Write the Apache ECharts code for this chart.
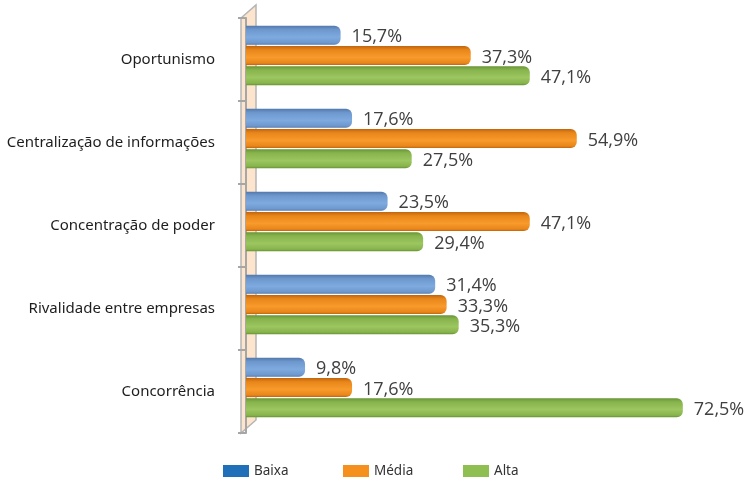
<!DOCTYPE html>
<html>
<head>
<meta charset="utf-8">
<script src="https://cdn.jsdelivr.net/npm/echarts@6/dist/echarts.min.js"></script>
<style>
  html, body { margin: 0; padding: 0; background: #fff; }
  #chart { width: 744px; height: 478px; }
</style>
</head>
<body>
<div id="chart"></div>
<script>
// dados
const categorias = ["Oportunismo", "Centralização de informações", "Concentração de poder", "Rivalidade entre empresas", "Concorrência"];
const baixa = [15.7, 17.6, 23.5, 31.4, 9.8];
const media = [37.3, 54.9, 47.1, 33.3, 17.6];
const alta = [47.1, 27.5, 29.4, 35.3, 72.5];
const nomes = ["Baixa", "Média", "Alta"];

// cilindro: gradiente vertical
function cilindro(escuro, medio, claro) {
  return {
    type: "linear", x: 0, y: 0, x2: 0, y2: 1,
    colorStops: [
      { offset: 0, color: escuro },
      { offset: 0.2, color: medio },
      { offset: 0.6, color: claro },
      { offset: 0.9, color: medio },
      { offset: 1, color: escuro },
    ],
  };
}

const cores = [
  { legenda: "#1f6fb9", barra: cilindro("#5279ae", "#6e98cd", "#7eaae0") },
  { legenda: "#f5901f", barra: cilindro("#c0650e", "#e8861a", "#f89a2c") },
  { legenda: "#8fbf50", barra: cilindro("#679336", "#88b44d", "#9cc65f") },
];

const fmt = (p) => p.value.toFixed(1).replace(".", ",") + "%";

const serieBase = (name, data, i) => ({
  name,
  type: "bar",
  xAxisIndex: 1,
  yAxisIndex: 1,
  data,
  barWidth: 19,
  barGap: "6%",
  itemStyle: { color: cores[i].barra, borderRadius: [0, 6, 6, 0] },
  label: {
    show: true,
    position: "right",
    distance: 11,
    offset: [0, 2],
    formatter: fmt,
    fontFamily: "Open Sans",
    fontSize: 18,
    color: "#404040",
  },
  z: 3,
});

// uma legenda por item, com espaçamento fixo
const legendas = nomes.map((n, i) => ({
  left: 218 + i * 120,
  top: 459,
  itemWidth: 26,
  itemHeight: 12,
  icon: "rect",
  textStyle: { fontFamily: "Noto Sans", fontSize: 13.5, color: "#333" },
  data: [{ name: n, itemStyle: { color: cores[i].legenda } }],
}));

const chart = echarts.init(document.getElementById("chart"));
chart.setOption({
  animation: false,
  color: cores.map((c) => c.legenda),
  grid: [
    // eixo (ticks e rótulos)
    { left: 246, right: 16, top: 18, bottom: 45 },
    // barras, um pouco acima do centro da faixa
    { left: 246, right: 16, top: 14, bottom: 49 },
  ],
  legend: legendas,
  xAxis: [
    { type: "value", gridIndex: 0, min: 0, max: 80, show: false },
    { type: "value", gridIndex: 1, min: 0, max: 80, show: false },
  ],
  yAxis: [
    {
      type: "category",
      gridIndex: 0,
      inverse: true,
      data: categorias,
      offset: 5,
      axisLine: { show: true, lineStyle: { color: "#a6a6a6", width: 2 } },
      axisTick: { show: true, length: 8, lineStyle: { color: "#a6a6a6", width: 2 } },
      axisLabel: {
        margin: 26,
        fontFamily: "Noto Sans",
        fontSize: 15,
        color: "#1e1e1e",
      },
      z: 2,
    },
    { type: "category", gridIndex: 1, inverse: true, data: categorias, show: false },
  ],
  graphic: [
    {
      type: "polygon",
      z: -10,
      shape: { points: [[241, 18], [256, 5], [256, 420], [241, 433]] },
      style: { fill: "#fde4cc", stroke: "#b5b5b5", lineWidth: 1.5 },
    },
  ],
  series: [
    serieBase("Baixa", baixa, 0),
    serieBase("Média", media, 1),
    serieBase("Alta", alta, 2),
  ],
});
</script>
</body>
</html>
